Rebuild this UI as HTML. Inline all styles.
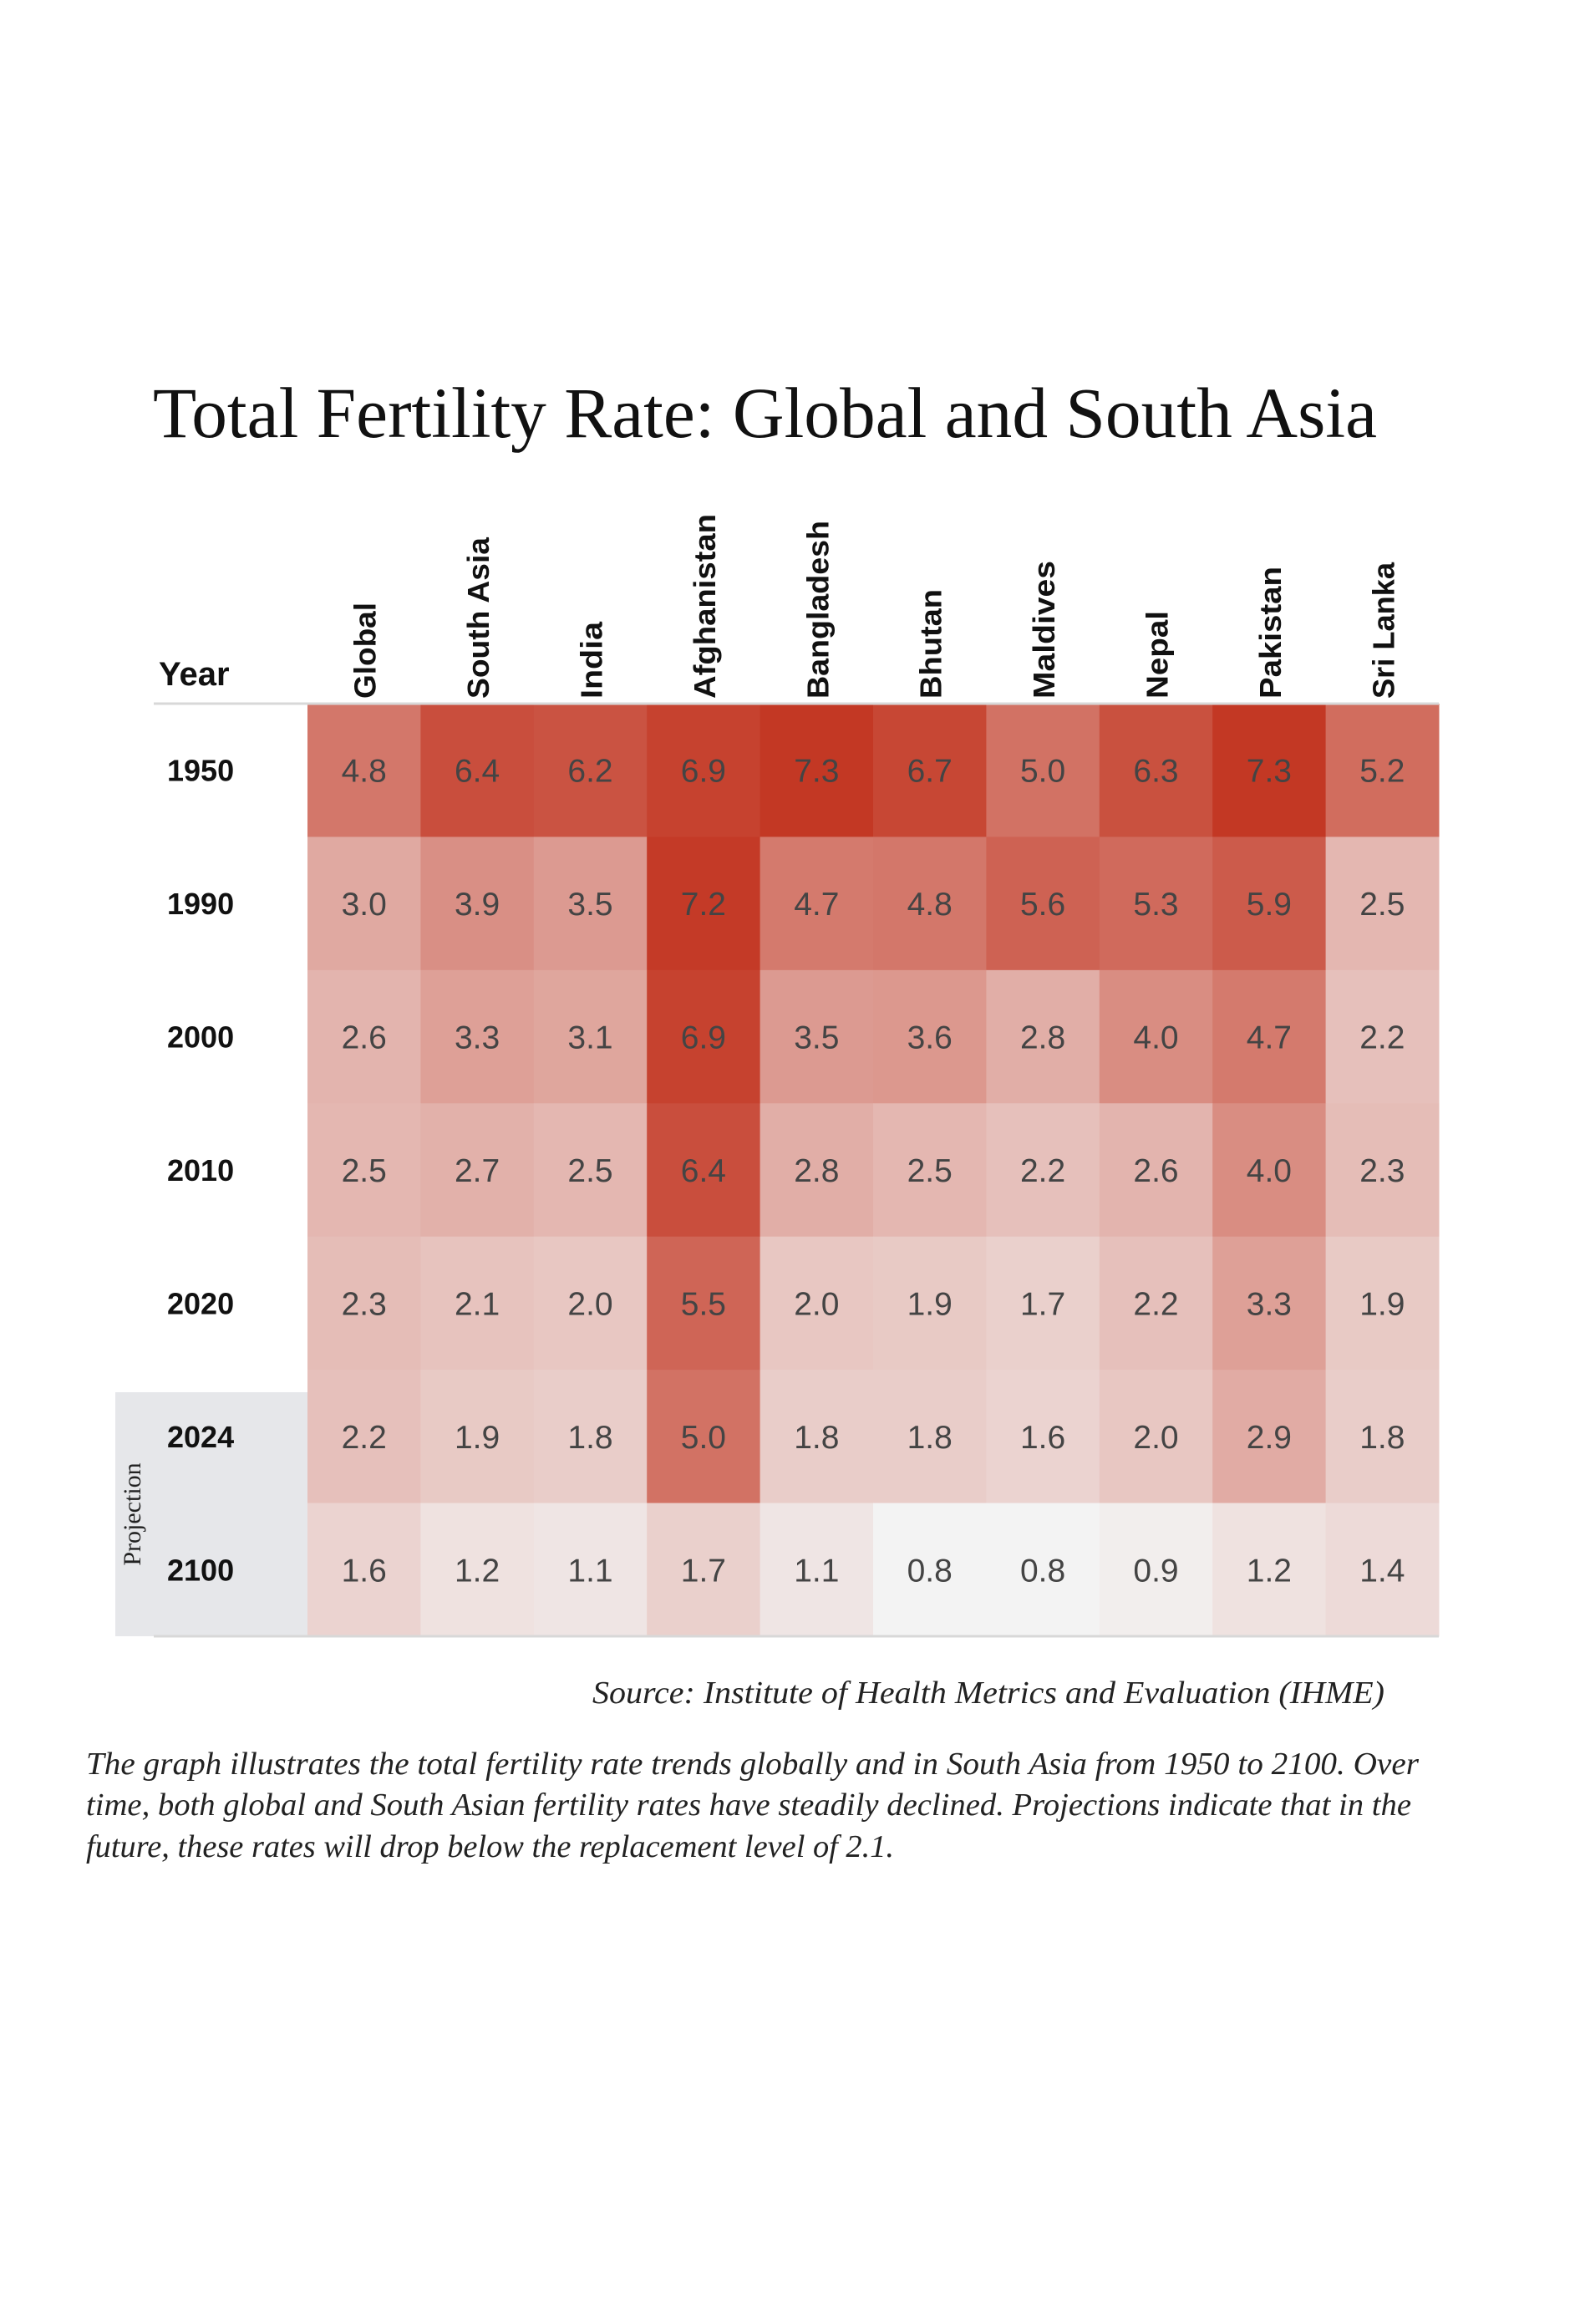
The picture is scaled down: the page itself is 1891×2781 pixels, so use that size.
<!DOCTYPE html>
<html><head><meta charset="utf-8"><style>
html,body{margin:0;padding:0;background:#fff;}
svg{display:block;}
</style></head><body>
<svg id="chart" width="1891" height="2781" viewBox="0 0 1891 2781" xmlns="http://www.w3.org/2000/svg">
<rect width="1891" height="2781" fill="#fff"/>
<text x="183" y="523" font-family="Liberation Serif, serif" font-size="86" fill="#111" textLength="1465" lengthAdjust="spacingAndGlyphs">Total Fertility Rate: Global and South Asia</text>
<rect x="138" y="1666" width="239" height="292" fill="#e6e7ea"/>
<text transform="translate(168,1812) rotate(-90)" text-anchor="middle" font-family="Liberation Serif, serif" font-size="30" fill="#222">Projection</text>
<text x="190" y="820" font-family="Liberation Sans, sans-serif" font-weight="bold" font-size="40" fill="#111">Year</text>
<g id="cells"></g>
<line x1="184" y1="842" x2="1722" y2="842" stroke="#d8d8d8" stroke-width="3"/>
<line x1="184" y1="1958" x2="1722" y2="1958" stroke="#d8d8d8" stroke-width="3"/>
<text x="709" y="2038" font-family="Liberation Serif, serif" font-style="italic" font-size="38" fill="#222" textLength="948" lengthAdjust="spacingAndGlyphs">Source: Institute of Health Metrics and Evaluation (IHME)</text>
<g font-family="Liberation Serif, serif" font-style="italic" font-size="38" fill="#222">
<text x="103" y="2123" textLength="1595" lengthAdjust="spacingAndGlyphs">The graph illustrates the total fertility rate trends globally and in South Asia from 1950 to 2100. Over</text>
<text x="103" y="2172" textLength="1586" lengthAdjust="spacingAndGlyphs">time, both global and South Asian fertility rates have steadily declined. Projections indicate that in the</text>
<text x="103" y="2222" textLength="967" lengthAdjust="spacingAndGlyphs">future, these rates will drop below the replacement level of 2.1.</text>
</g>
</svg>
<script>
const countries = ["Global","South Asia","India","Afghanistan","Bangladesh","Bhutan","Maldives","Nepal","Pakistan","Sri Lanka"];
const years = ["1950","1990","2000","2010","2020","2024","2100"];
const v1950 = [4.8,6.4,6.2,6.9,7.3,6.7,5.0,6.3,7.3,5.2];
const v1990 = [3.0,3.9,3.5,7.2,4.7,4.8,5.6,5.3,5.9,2.5];
const v2000 = [2.6,3.3,3.1,6.9,3.5,3.6,2.8,4.0,4.7,2.2];
const v2010 = [2.5,2.7,2.5,6.4,2.8,2.5,2.2,2.6,4.0,2.3];
const v2020 = [2.3,2.1,2.0,5.5,2.0,1.9,1.7,2.2,3.3,1.9];
const v2024 = [2.2,1.9,1.8,5.0,1.8,1.8,1.6,2.0,2.9,1.8];
const v2100 = [1.6,1.2,1.1,1.7,1.1,0.8,0.8,0.9,1.2,1.4];
const rows = [v1950,v1990,v2000,v2010,v2020,v2024,v2100];
const labelLengths = [115,193,92,221,213,131,165,105,158,163];

const NS="http://www.w3.org/2000/svg";
const svgEl=document.getElementById('chart');
const cellGroup=document.getElementById('cells');
const gLeft=368,gRight=1722,gTop=842,gBottom=1958;
const cw=(gRight-gLeft)/countries.length, rh=(gBottom-gTop)/years.length;
const xPos=i=>gLeft+i*cw, yPos=j=>gTop+j*rh;
function color(v){
  let t=Math.max(0,Math.min(1,(v-0.8)/(7.3-0.8)));
  t=Math.pow(t,0.85);
  const a=[243,243,243], b=[195,56,36];
  return 'rgb('+a.map((c,k)=>Math.round(c+(b[k]-c)*t)).join(',')+')';
}
countries.forEach((c,i)=>{
  const t=document.createElementNS(NS,'text');
  
  
  const x=xPos(i)+cw/2+14;
  t.setAttribute('transform','translate('+x+',836) rotate(-90)');
  t.setAttribute('font-family','Liberation Sans, sans-serif');
  t.setAttribute('font-weight','bold');
  t.setAttribute('font-size','36');
  t.setAttribute('fill','#111');
  t.setAttribute('textLength',labelLengths[i]);
  t.setAttribute('lengthAdjust','spacingAndGlyphs');
  t.textContent=c;
  svgEl.appendChild(t);
});
years.forEach((yr,j)=>{
  const t=document.createElementNS(NS,'text');
  
  
  t.setAttribute('x',200);
  t.setAttribute('y',yPos(j)+rh/2+13);
  t.setAttribute('font-family','Liberation Sans, sans-serif');
  t.setAttribute('font-weight','bold');
  t.setAttribute('font-size','36');
  t.setAttribute('fill','#111');
  t.textContent=yr;
  svgEl.appendChild(t);
  rows[j].forEach((v,i)=>{
    const r=document.createElementNS(NS,'rect');
    
    
    r.setAttribute('x',xPos(i)); r.setAttribute('y',yPos(j));
    r.setAttribute('width',cw+0.5); r.setAttribute('height',rh+0.5);
    r.setAttribute('fill',color(v));
    cellGroup.appendChild(r);
    const tx=document.createElementNS(NS,'text');
    
    
    tx.setAttribute('x',xPos(i)+cw/2); tx.setAttribute('y',yPos(j)+rh/2+14);
    tx.setAttribute('text-anchor','middle');
    tx.setAttribute('font-family','Liberation Sans, sans-serif');
    tx.setAttribute('font-size','39');
    tx.setAttribute('fill','#444');
    tx.textContent=v.toFixed(1);
    cellGroup.appendChild(tx);
  });
});
</script>
</body></html>
